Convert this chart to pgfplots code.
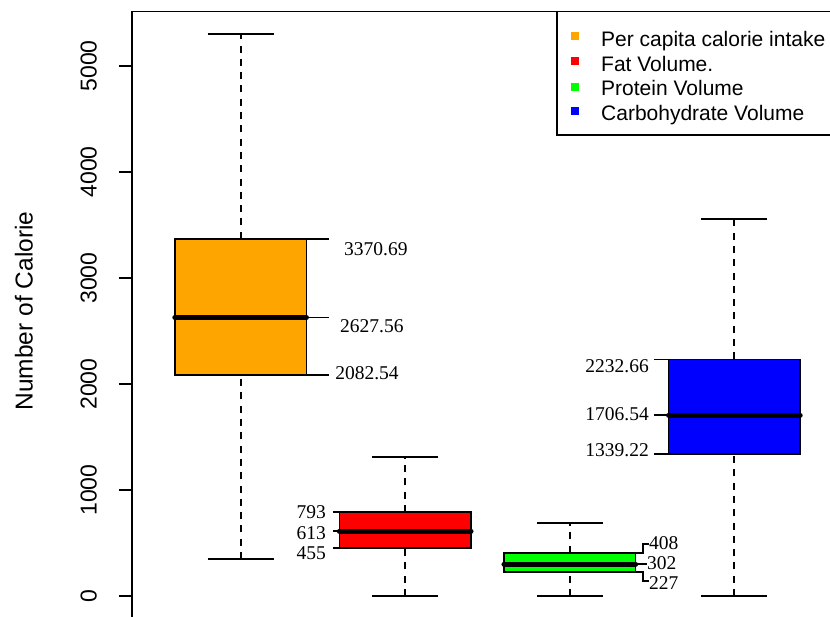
\documentclass[border=0pt]{standalone}
\usepackage{fontspec}
\setmainfont{Liberation Sans}
\newfontfamily\serifnum{Liberation Serif}
\usepackage{pgfplots}
\pgfplotsset{compat=1.18}
\definecolor{Rorange}{RGB}{255,165,0}
\definecolor{Rred}{RGB}{255,0,0}
\definecolor{Rgreen}{RGB}{0,255,0}
\definecolor{Rblue}{RGB}{0,0,255}

\tikzset{
  ann/.style={black, line width=1.6pt},
  lab/.style={inner sep=0pt, font=\fontsize{19.5}{19.5}\serifnum},
  legtxt/.style={anchor=base west, inner sep=0pt, font=\fontsize{21}{21}\selectfont},
}
\pgfplotsset{
  wh/.style={black, line width=1.8pt, dash pattern=on 7pt off 6.3pt, forget plot},
  cap/.style={black, line width=1.8pt, solid, forget plot},
  bx/.style={draw=black, line width=1.6pt, solid, fill=#1, forget plot},
  md/.style={black, line width=5pt, line cap=round, forget plot},
}

\begin{document}
\begin{tikzpicture}
\begin{axis}[
  scale only axis, width=711pt, height=607pt,
  xmin=0.34, xmax=4.66, ymin=-212, ymax=5514,
  xtick=\empty,
  ytick={0,1000,2000,3000,4000,5000},
  yticklabel style={rotate=90, anchor=south, inner sep=0pt, font=\fontsize{23}{23}\selectfont},
  yticklabel shift=22pt,
  /pgf/number format/assume math mode=true,
  /pgf/number format/1000 sep={},
  tick align=outside, ytick pos=left, major tick length=13pt,
  tick style={line width=1.6pt, black},
  axis line style={line width=1.6pt},
  ylabel={Number of Calorie},
  every axis y label/.style={at={(axis description cs:-0.1392,0.5066)}, rotate=90, anchor=south, inner sep=0pt, font=\fontsize{24.5}{24.5}\selectfont},
]
% whiskers (dashed), caps
\addplot[wh] coordinates {(1,349) (1,2082.54)};
\addplot[wh] coordinates {(1,3370.69) (1,5302)};
\addplot[cap] coordinates {(0.8,349) (1.2,349)};
\addplot[cap] coordinates {(0.8,5302) (1.2,5302)};
\addplot[wh] coordinates {(2,0) (2,455)};
\addplot[wh] coordinates {(2,793) (2,1310)};
\addplot[cap] coordinates {(1.8,0) (2.2,0)};
\addplot[cap] coordinates {(1.8,1310) (2.2,1310)};
\addplot[wh] coordinates {(3,0) (3,227)};
\addplot[wh] coordinates {(3,408) (3,689)};
\addplot[cap] coordinates {(2.8,0) (3.2,0)};
\addplot[cap] coordinates {(2.8,689) (3.2,689)};
\addplot[wh] coordinates {(4,0) (4,1339.22)};
\addplot[wh] coordinates {(4,2232.66) (4,3555)};
\addplot[cap] coordinates {(3.8,0) (4.2,0)};
\addplot[cap] coordinates {(3.8,3555) (4.2,3555)};
% boxes (lower quartile to upper quartile)
\addplot[bx=Rorange] coordinates {(0.6,2082.54) (1.4,2082.54) (1.4,3370.69) (0.6,3370.69)} -- cycle;
\addplot[bx=Rred] coordinates {(1.6,455) (2.4,455) (2.4,793) (1.6,793)} -- cycle;
\addplot[bx=Rgreen] coordinates {(2.6,227) (3.4,227) (3.4,408) (2.6,408)} -- cycle;
\addplot[bx=Rblue] coordinates {(3.6,1339.22) (4.4,1339.22) (4.4,2232.66) (3.6,2232.66)} -- cycle;
% medians
\addplot[md] coordinates {(0.6,2627.56) (1.4,2627.56)};
\addplot[md] coordinates {(1.6,613) (2.4,613)};
\addplot[md] coordinates {(2.6,302) (3.4,302)};
\addplot[md] coordinates {(3.6,1706.54) (4.4,1706.54)};

% legend (top right)
\draw[line width=1.6pt, fill=white] (rel axis cs:1,1) ++(-286pt,0pt) rectangle ++(286pt,-123.5pt);
\fill[Rorange] (rel axis cs:1,1) ++(-272pt,-20.2pt) rectangle ++(8pt,-8pt);
\fill[Rred]    (rel axis cs:1,1) ++(-272pt,-45.2pt) rectangle ++(8pt,-8pt);
\fill[Rgreen]  (rel axis cs:1,1) ++(-272pt,-71.2pt) rectangle ++(8pt,-8pt);
\fill[Rblue]   (rel axis cs:1,1) ++(-272pt,-95.2pt) rectangle ++(8pt,-8pt);
\path (rel axis cs:1,1) ++(-242pt,-35.2pt) node[legtxt] {Per capita calorie intake};
\path (rel axis cs:1,1) ++(-242pt,-60.2pt) node[legtxt] {Fat Volume.};
\path (rel axis cs:1,1) ++(-242pt,-84.2pt) node[legtxt] {Protein Volume};
\path (rel axis cs:1,1) ++(-242pt,-109.2pt) node[legtxt] {Carbohydrate Volume};

% annotations: box 1
\draw[ann] (axis cs:1.4,3370.69) -- (axis cs:1.537,3370.69);
\draw[ann] (axis cs:1.4,2627.56) -- (axis cs:1.537,2627.56);
\draw[ann] (axis cs:1.4,2082.54) -- (axis cs:1.537,2082.54);
\node[lab, anchor=west] at (axis cs:1.628,3273.6) {3370.69};
\node[lab, anchor=west] at (axis cs:1.604,2547) {2627.56};
\node[lab, anchor=west] at (axis cs:1.574,2104) {2082.54};
% box 2
\draw[ann] (axis cs:1.561,793) -- (axis cs:1.6,793);
\draw[ann] (axis cs:1.561,613) -- (axis cs:1.6,613);
\draw[ann] (axis cs:1.561,455) -- (axis cs:1.6,455);
\node[lab, anchor=east] at (axis cs:1.519,792) {793};
\node[lab, anchor=east] at (axis cs:1.519,594) {613};
\node[lab, anchor=east] at (axis cs:1.519,406) {455};
% box 3
\draw[ann] (axis cs:3.4,408) -- (axis cs:3.445,408) -- (axis cs:3.445,490.6) -- (axis cs:3.481,490.6);
\draw[ann] (axis cs:3.4,302) -- (axis cs:3.469,302);
\draw[ann] (axis cs:3.4,227) -- (axis cs:3.445,227) -- (axis cs:3.445,141.5) -- (axis cs:3.481,141.5);
\node[lab, anchor=west] at (axis cs:3.481,500) {408};
\node[lab, anchor=west] at (axis cs:3.469,311) {302};
\node[lab, anchor=west] at (axis cs:3.481,123) {227};
% box 4
\draw[ann] (axis cs:3.511,2232.66) -- (axis cs:3.6,2232.66);
\draw[ann] (axis cs:3.511,1706.54) -- (axis cs:3.6,1706.54);
\draw[ann] (axis cs:3.511,1339.22) -- (axis cs:3.6,1339.22);
\node[lab, anchor=east] at (axis cs:3.481,2170) {2232.66};
\node[lab, anchor=east] at (axis cs:3.481,1717) {1706.54};
\node[lab, anchor=east] at (axis cs:3.481,1377) {1339.22};
\end{axis}
\pgfresetboundingbox
\path[use as bounding box] (-132pt,2.5pt) rectangle (698pt,618.5pt);
\end{tikzpicture}
\end{document}
